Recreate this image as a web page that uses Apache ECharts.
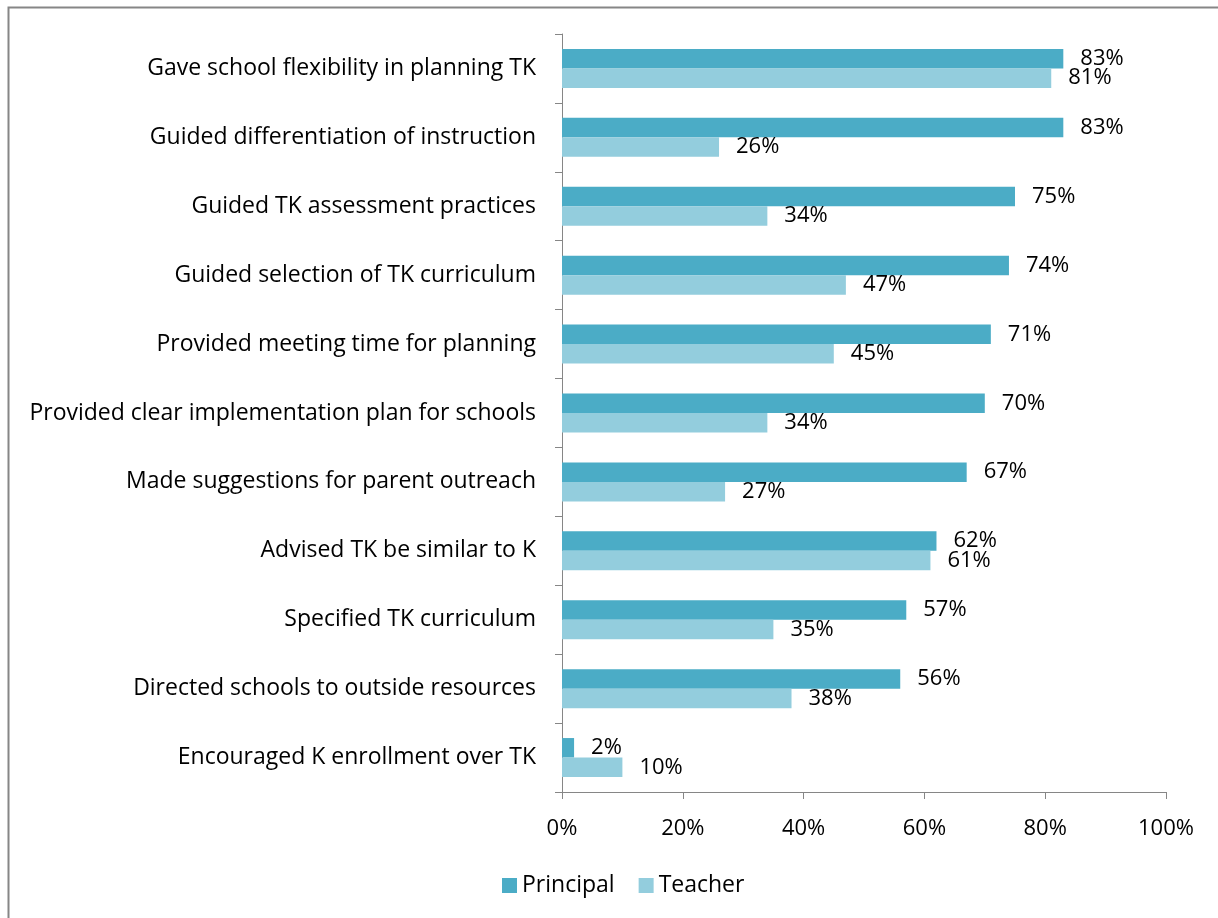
<!DOCTYPE html>
<html>
<head>
<meta charset="utf-8">
<script src="https://cdn.jsdelivr.net/npm/echarts@6/dist/echarts.min.js"></script>
<style>html,body{margin:0;padding:0;background:#fff}#c{width:1218px;height:918px}</style>
</head>
<body>
<div id="c"></div>
<script>
const categories = [
  "Gave school flexibility in planning TK",
  "Guided differentiation of instruction",
  "Guided TK assessment practices",
  "Guided selection of TK curriculum",
  "Provided meeting time for planning",
  "Provided clear implementation plan for schools",
  "Made suggestions for parent outreach",
  "Advised TK be similar to K",
  "Specified TK curriculum",
  "Directed schools to outside resources",
  "Encouraged K enrollment over TK"
];
const principal = [83, 83, 75, 74, 71, 70, 67, 62, 57, 56, 2];
const teacher = [81, 26, 34, 47, 45, 34, 27, 61, 35, 38, 10];
const xTicks = [0, 20, 40, 60, 80, 100];

const FONT = "Open Sans";
const FS = 22;
const chart = echarts.init(document.getElementById('c'), null, {renderer: 'canvas'});
const labelStyle = {
  show: true, position: 'right', distance: 17,
  formatter: p => p.value + '%', color: '#000', fontFamily: FONT, fontSize: FS
};
chart.setOption({
  animation: false,
  textStyle: {fontFamily: FONT},
  graphic: [{
    type: 'rect', left: 6, top: 5, shape: {x: 0, y: 0, width: 1300, height: 1000},
    style: {fill: 'none', stroke: '#868686', lineWidth: 2}, silent: true
  }],
  grid: {left: 562, right: 52, top: 34, bottom: 126, containLabel: false},
  legend: {
    data: ['Principal', 'Teacher'], left: 497, top: 869, itemWidth: 15, itemHeight: 15, itemGap: 24,
    icon: 'rect', textStyle: {fontFamily: FONT, fontSize: 23, color: '#000'}
  },
  xAxis: {
    type: 'value', min: xTicks[0], max: xTicks[xTicks.length - 1], interval: 20,
    axisLine: {show: true, lineStyle: {color: '#868686', width: 1}},
    axisTick: {show: true, length: 7, lineStyle: {color: '#868686'}},
    splitLine: {show: false},
    axisLabel: {formatter: v => v + '%', color: '#000', fontFamily: FONT, fontSize: FS, margin: 26}
  },
  yAxis: {
    type: 'category', data: categories, inverse: true,
    axisLine: {show: true, lineStyle: {color: '#868686', width: 1}},
    axisTick: {show: true, length: 7, lineStyle: {color: '#868686'}},
    axisLabel: {color: '#000', fontFamily: FONT, fontSize: 23, margin: 26}
  },
  series: [
    {name: 'Principal', type: 'bar', data: principal, barWidth: 19.5, barGap: '0%',
     itemStyle: {color: '#4BACC6'}, label: labelStyle},
    {name: 'Teacher', type: 'bar', data: teacher, barWidth: 19.5, barGap: '0%',
     itemStyle: {color: '#93CDDD'}, label: labelStyle}
  ]
});
</script>
</body>
</html>
